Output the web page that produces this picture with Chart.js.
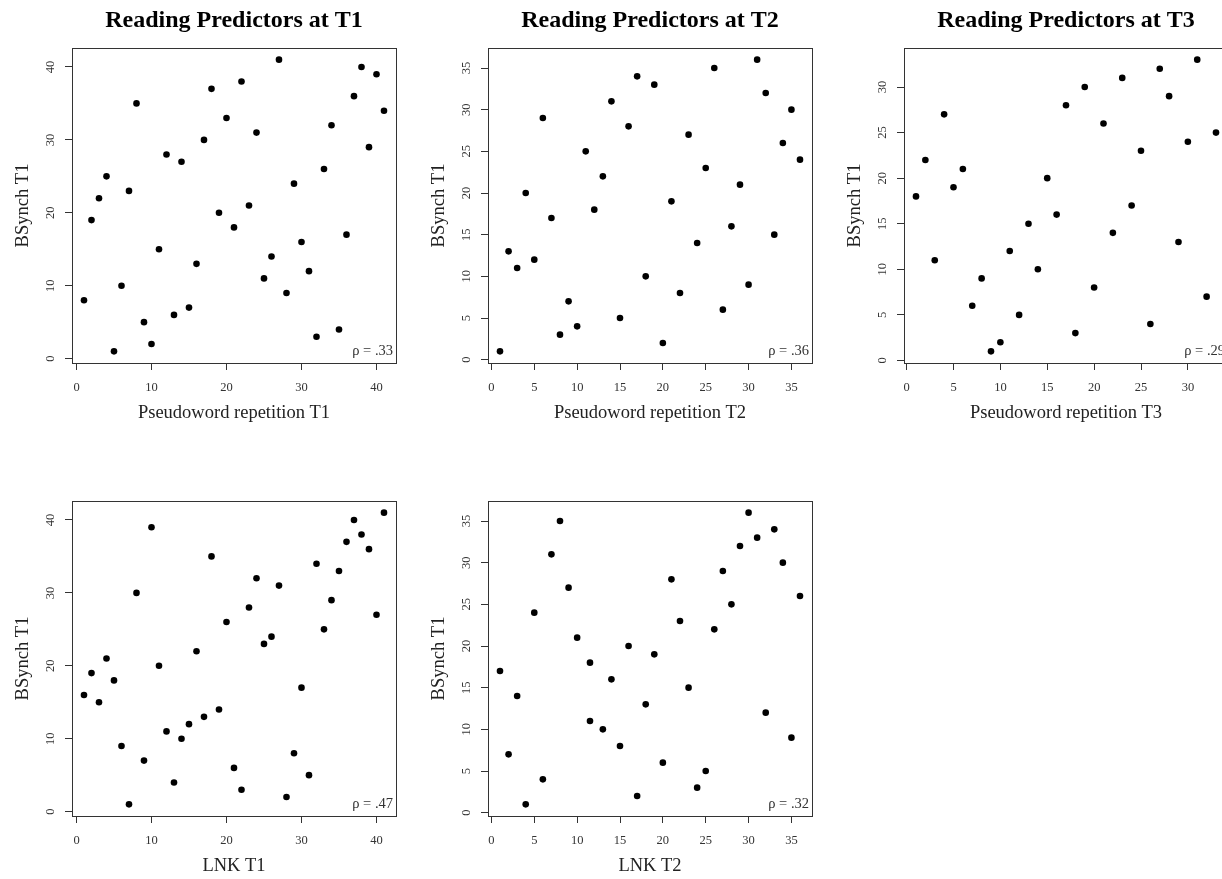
<!DOCTYPE html>
<html>
<head>
<meta charset="utf-8">
<script src="https://cdn.jsdelivr.net/npm/chart.js@4.4.1/dist/chart.umd.min.js"></script>
<style>
  html, body { margin: 0; padding: 0; background: #fff; }
  body { width: 1222px; height: 879px; position: relative; overflow: hidden; }
  canvas { position: absolute; }
</style>
</head>
<body>
<canvas id="p1" width="468" height="453" style="left:0px;top:0px"></canvas>
<canvas id="p2" width="468" height="453" style="left:416px;top:0px"></canvas>
<canvas id="p3" width="468" height="453" style="left:832px;top:0px"></canvas>
<canvas id="p4" width="468" height="453" style="left:0px;top:453px"></canvas>
<canvas id="p5" width="468" height="453" style="left:416px;top:453px"></canvas>
<script>
// ranks
const pwT1X = [1,2,3,4,5,6,7,8,9,10,11,12,13,14,15,16,17,18,19,20,21,22,23,24,25,26,27,28,29,30,31,32,33,34,35,36,37,38,39,40,41];
const pwT1Y = [8,19,22,25,1,10,23,35,5,2,15,28,6,27,7,13,30,37,20,33,18,38,21,31,11,14,41,9,24,16,12,3,26,32,4,17,36,40,29,39,34];

const pwT2X = [1,2,3,4,5,6,7,8,9,10,11,12,13,14,15,16,17,18,19,20,21,22,23,24,25,26,27,28,29,30,31,32,33,34,35,36];
const pwT2Y = [1,13,11,20,12,29,17,3,7,4,25,18,22,31,5,28,34,10,33,2,19,8,27,14,23,35,6,16,21,9,36,32,15,26,30,24];

const pwT3X = [1,2,3,4,5,6,7,8,9,10,11,12,13,14,15,16,17,18,19,20,21,22,23,24,25,26,27,28,29,30,31,32,33];
const pwT3Y = [18,22,11,27,19,21,6,9,1,2,12,5,15,10,20,16,28,3,30,8,26,14,31,17,23,4,32,29,13,24,33,7,25];

const lnkT1X = [1,2,3,4,5,6,7,8,9,10,11,12,13,14,15,16,17,18,19,20,21,22,23,24,25,26,27,28,29,30,31,32,33,34,35,36,37,38,39,40,41];
const lnkT1Y = [16,19,15,21,18,9,1,30,7,39,20,11,4,10,12,22,13,35,14,26,6,3,28,32,23,24,31,2,8,17,5,34,25,29,33,37,40,38,36,27,41];

const lnkT2X = [1,2,3,4,5,6,7,8,9,10,11.5,11.5,13,14,15,16,17,18,19,20,21,22,23,24,25,26,27,28,29,30,31,32,33,34,35,36];
const lnkT2Y = [17,7,14,1,24,4,31,35,27,21,18,11,10,16,8,20,2,13,19,6,28,23,15,3,5,22,29,25,32,36,33,12,34,30,9,26];

const ticks10 = [0,10,20,30,40];
const ticks5to35 = [0,5,10,15,20,25,30,35];
const ticks5to30 = [0,5,10,15,20,25,30];

const SERIF = "'Liberation Serif', 'Times New Roman', serif";
Chart.defaults.font.family = SERIF;

// R style box round the plot + rho label in the corner
const rBox = {
  id: 'rBox',
  afterDraw(chart, args, opts) {
    const {ctx, chartArea: a} = chart;
    ctx.save();
    ctx.strokeStyle = '#333';
    ctx.lineWidth = 1;
    ctx.strokeRect(Math.round(a.left) + 0.5, Math.round(a.top) + 0.5,
                   Math.round(a.right - a.left), Math.round(a.bottom - a.top));
    ctx.fillStyle = '#333';
    ctx.font = '14.5px ' + SERIF;
    ctx.textAlign = 'right';
    ctx.textBaseline = 'alphabetic';
    ctx.fillText(opts.rho, a.right - 3, a.bottom - 8);
    ctx.restore();
  }
};

function range(vals) {
  const lo = Math.min(...vals), hi = Math.max(...vals);
  const pad = (hi - lo) * 0.04;
  return [lo - pad, hi + pad];
}

function makePanel(id, p) {
  const [xmin, xmax] = range(p.x);
  const [ymin, ymax] = range(p.y);
  new Chart(document.getElementById(id), {
    type: 'scatter',
    data: {
      datasets: [{
        data: p.x.map((v, i) => ({x: v, y: p.y[i]})),
        pointRadius: 3.3,
        pointBorderWidth: 0,
        pointBackgroundColor: '#000'
      }]
    },
    options: {
      responsive: false,
      animation: false,
      events: [],
      layout: {padding: 0},
      plugins: {
        legend: {display: false},
        tooltip: {enabled: false},
        title: {
          display: true,
          text: p.title,
          color: '#000',
          font: {family: SERIF, size: 24, weight: 'bold'},
          padding: {top: 6, bottom: 13.2}
        },
        rBox: {rho: p.rho}
      },
      scales: {
        x: {
          type: 'linear',
          min: xmin, max: xmax,
          afterBuildTicks: s => { s.ticks = p.xTicks.map(v => ({value: v})); },
          afterFit: s => { s.height = 90; },
          grid: {display: true, drawOnChartArea: false, drawTicks: true, tickLength: 7, color: '#333'},
          border: {display: false},
          ticks: {color: '#333', font: {size: 12.5}, padding: 10, autoSkip: false, maxRotation: 0, minRotation: 0},
          title: {display: true, text: p.xTitle, color: '#222', font: {size: 18.5}, padding: {top: 0, bottom: 29}}
        },
        y: {
          type: 'linear',
          min: ymin, max: ymax,
          afterBuildTicks: s => { s.ticks = p.yTicks.map(v => ({value: v})); },
          afterFit: s => { s.width = 72; },
          grid: {display: true, drawOnChartArea: false, drawTicks: true, tickLength: 7, color: '#333'},
          border: {display: false},
          ticks: {color: '#333', font: {size: 12.5}, padding: 8.5, autoSkip: false, minRotation: 90, maxRotation: 90, crossAlign: 'center'},
          title: {display: true, text: 'BSynch T1', color: '#222', font: {size: 18.5}, padding: {top: 12, bottom: 0}}
        },
        // empty right margin so the title centres over the plot box
        yRight: {
          type: 'linear',
          position: 'right',
          display: true,
          min: 0, max: 1,
          afterFit: s => { s.width = 72; },
          grid: {display: false},
          border: {display: false},
          ticks: {display: false}
        }
      }
    },
    plugins: [rBox]
  });
}

makePanel('p1', {x: pwT1X, y: pwT1Y, xTicks: ticks10, yTicks: ticks10,
  title: 'Reading Predictors at T1', xTitle: 'Pseudoword repetition T1', rho: 'ρ = .33'});
makePanel('p2', {x: pwT2X, y: pwT2Y, xTicks: ticks5to35, yTicks: ticks5to35,
  title: 'Reading Predictors at T2', xTitle: 'Pseudoword repetition T2', rho: 'ρ = .36'});
makePanel('p3', {x: pwT3X, y: pwT3Y, xTicks: ticks5to30, yTicks: ticks5to30,
  title: 'Reading Predictors at T3', xTitle: 'Pseudoword repetition T3', rho: 'ρ = .29'});
makePanel('p4', {x: lnkT1X, y: lnkT1Y, xTicks: ticks10, yTicks: ticks10,
  title: '', xTitle: 'LNK T1', rho: 'ρ = .47'});
makePanel('p5', {x: lnkT2X, y: lnkT2Y, xTicks: ticks5to35, yTicks: ticks5to35,
  title: '', xTitle: 'LNK T2', rho: 'ρ = .32'});
</script>
</body>
</html>
